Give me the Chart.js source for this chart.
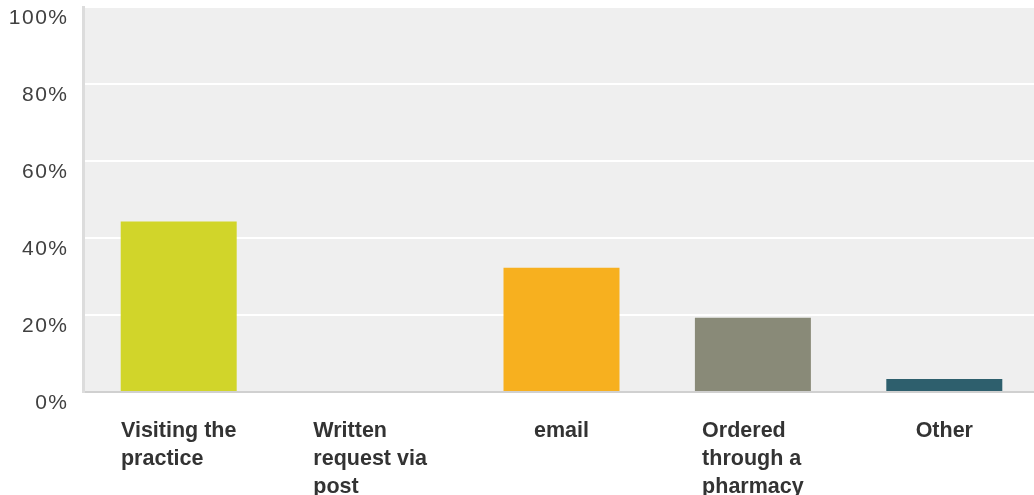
<!DOCTYPE html>
<html>
<head>
<meta charset="utf-8">
<script src="https://cdn.jsdelivr.net/npm/chart.js@4/dist/chart.umd.min.js"></script>
<style>
  html, body { margin: 0; padding: 0; background: #fff; overflow: hidden; }
  /* the panel runs a few pixels past the right edge of the window */
  #wrap { width: 1040px; height: 495px; }
</style>
</head>
<body>
<div id="wrap"><canvas id="chart"></canvas></div>
<script>
// answer options, already split into the lines they are printed on
const categories = [
  ['Visiting the', 'practice'],
  ['Written', 'request via', 'post'],
  ['email'],
  ['Ordered', 'through a', 'pharmacy'],
  ['Other']
];
const percentages = [44.3, 0, 32.3, 19.3, 3.4];
const barColors = ['#d1d52a', '#f7b01f', '#f7b01f', '#898a78', '#2e5f6d'];
const yTicks = [0, 20, 40, 60, 80, 100];

// grey panel behind the bars
const plotBackground = {
  id: 'plotBackground',
  beforeDraw(chart) {
    const { ctx, chartArea: a } = chart;
    ctx.save();
    ctx.fillStyle = '#efefef';
    ctx.fillRect(a.left, a.top, a.right - a.left, a.bottom - a.top);
    ctx.restore();
    // slightly spaced digits on the value axis
    ctx.letterSpacing = '1.5px';
  }
};

// category labels: each block centred under its bar, lines left aligned
const categoryLabels = {
  id: 'categoryLabels',
  afterDraw(chart) {
    const { ctx } = chart;
    const xScale = chart.scales.x;
    ctx.save();
    ctx.letterSpacing = '0px';
    ctx.font = 'bold 21.5px "Liberation Sans", Arial, sans-serif';
    ctx.fillStyle = '#333333';
    ctx.textAlign = 'left';
    ctx.textBaseline = 'alphabetic';
    categories.forEach((lines, i) => {
      const cx = xScale.getPixelForTick(i);
      const w = Math.max(...lines.map(l => ctx.measureText(l).width));
      lines.forEach((line, j) => {
        ctx.fillText(line, cx - w / 2, xScale.top + 45 + j * 28);
      });
    });
    ctx.restore();
  }
};

new Chart(document.getElementById('chart'), {
  type: 'bar',
  data: {
    labels: categories,
    datasets: [{
      data: percentages,
      backgroundColor: barColors,
      borderWidth: 0,
      barPercentage: 0.606,
      categoryPercentage: 1
    }]
  },
  options: {
    responsive: true,
    maintainAspectRatio: false,
    animation: false,
    layout: { padding: { top: 7, right: 0, left: 0, bottom: 0 } },
    plugins: {
      legend: { display: false },
      tooltip: { enabled: false }
    },
    scales: {
      x: {
        grid: { display: false },
        border: { display: true, color: '#d0d0d0', width: 2 },
        ticks: { display: false },
        afterFit(scale) {
          scale.height = 103;
          scale.paddingLeft = 0;
          scale.paddingRight = 0;
        }
      },
      y: {
        min: 0,
        max: 100,
        afterBuildTicks(scale) {
          scale.ticks = yTicks.map(v => ({ value: v }));
        },
        grid: {
          color: ctx => (ctx.tick && ctx.tick.value === 0 ? 'rgba(0,0,0,0)' : '#ffffff'),
          lineWidth: 2,
          drawTicks: false
        },
        border: { display: true, color: '#dcdcdc', width: 3 },
        ticks: {
          padding: 14.5,
          labelOffset: 11,
          color: '#404040',
          font: { family: '"Liberation Sans", Arial, sans-serif', size: 21 },
          callback: v => v + '%'
        },
        afterFit(scale) {
          scale.width = 83;
          scale.paddingTop = 0;
          scale.paddingBottom = 0;
        }
      }
    }
  },
  plugins: [plotBackground, categoryLabels]
});
</script>
</body>
</html>
